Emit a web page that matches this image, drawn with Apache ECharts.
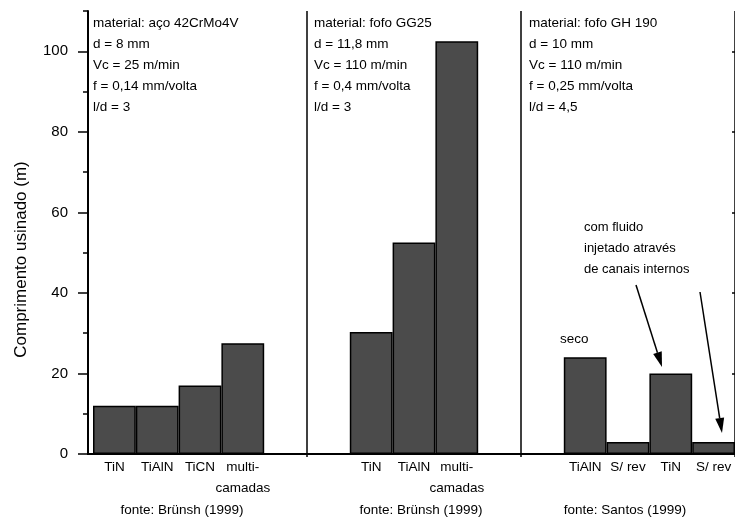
<!DOCTYPE html>
<html>
<head>
<meta charset="utf-8">
<script src="https://cdn.jsdelivr.net/npm/echarts@6/dist/echarts.min.js"></script>
<style>
  html, body { margin: 0; padding: 0; background: #fff; }
  #chart { width: 735px; height: 520px; }
</style>
</head>
<body>
<div id="chart"></div>
<script>
// Machined length (m) per tool coating, one pair of arrays per test panel
const panel1Coatings = ['TiN', 'TiAlN', 'TiCN', 'multi-\ncamadas'];
const panel1Length = [12, 12, 17, 27.5];
const panel2Coatings = ['TiN', 'TiAlN', 'multi-\ncamadas'];
const panel2Length = [30.3, 52.5, 102.5];
const panel3Coatings = ['TiAlN', 'S/ rev', 'TiN', 'S/ rev'];
const panel3Length = [24, 3, 20, 3];

// Cutting conditions printed at the top of each panel
const panelNotes = [
  'material: aço 42CrMo4V\nd = 8 mm\nVc = 25 m/min\nf = 0,14 mm/volta\nl/d = 3',
  'material: fofo GG25\nd = 11,8 mm\nVc = 110 m/min\nf = 0,4 mm/volta\nl/d = 3',
  'material: fofo GH 190\nd = 10 mm\nVc = 110 m/min\nf = 0,25 mm/volta\nl/d = 4,5'
];
const panelSources = ['fonte: Brünsh (1999)', 'fonte: Brünsh (1999)', 'fonte: Santos (1999)'];
const dryLabel = 'seco';
const coolantNote = 'com fluido\ninjetado através\nde canais internos';

const yMajorTicks = [0, 20, 40, 60, 80, 100];
const yMinorTicks = [10, 30, 50, 70, 90, 110];
const yMax = 110;

// Assemble one category row with two empty slots between panels
const GAP = ['', ''];
const GAP_VALUES = ['-', '-'];
const categories = [...panel1Coatings, ...GAP, ...panel2Coatings, ...GAP, ...panel3Coatings];
const values = [...panel1Length, ...GAP_VALUES, ...panel2Length, ...GAP_VALUES, ...panel3Length];
const panel2Start = panel1Coatings.length + GAP.length;
const panel3Start = panel2Start + panel2Coatings.length + GAP.length;
const dividerIdx = [panel2Start - 1, panel3Start - 1];

// first bar of the third panel carries the "seco" caption
const barData = values.map((v, i) => i === panel3Start
  ? { value: v, label: { show: true, formatter: dryLabel, position: 'top', distance: 11, offset: [-11, 0] } }
  : v);

const FONT = 'Liberation Sans, Arial, sans-serif';
const chart = echarts.init(document.getElementById('chart'), null, { renderer: 'canvas' });

function arrow(x0, y0, x1, y1) {
  const dx = x1 - x0, dy = y1 - y0, len = Math.hypot(dx, dy);
  const ux = dx / len, uy = dy / len, head = 15, half = 4.5;
  const bx = x1 - ux * head, by = y1 - uy * head;
  return [
    { type: 'line', shape: { x1: x0, y1: y0, x2: bx, y2: by }, style: { stroke: '#000', lineWidth: 1.5 } },
    { type: 'polygon', shape: { points: [[x1, y1], [bx - uy * half, by + ux * half], [bx + uy * half, by - ux * half]] }, style: { fill: '#000' } }
  ];
}

const noteX = [93, 314, 529];
const sourceX = [182, 421, 625];

const option = {
  animation: false,
  backgroundColor: '#fff',
  textStyle: { fontFamily: FONT },
  grid: [
    { left: 88, top: 11, width: 648, bottom: 66 },
    { left: 93, top: 11, width: 646, bottom: 66 }
  ],
  xAxis: [
    { type: 'value', gridIndex: 0, position: 'bottom', min: 0, max: 1,
      axisLine: { show: true, lineStyle: { color: '#000', width: 2 } },
      axisTick: { show: false }, axisLabel: { show: false }, splitLine: { show: false } },
    { type: 'value', gridIndex: 0, position: 'top', min: 0, max: 1,
      axisLine: { show: true, lineStyle: { color: '#000', width: 2 } },
      axisTick: { show: false }, axisLabel: { show: false }, splitLine: { show: false } },
    { type: 'category', gridIndex: 1, data: categories, boundaryGap: true,
      axisLine: { show: false },
      axisTick: { show: true, length: 3, interval: (i) => dividerIdx.includes(i), lineStyle: { color: '#000', width: 1.5 } },
      splitLine: { show: true, interval: (i) => dividerIdx.includes(i), lineStyle: { color: '#000', width: 1.5 } },
      axisLabel: { interval: 0, color: '#000', fontSize: 13.5, lineHeight: 21, margin: 3, fontFamily: FONT } }
  ],
  yAxis: [
    { type: 'value', gridIndex: 0, position: 'left', min: 0, max: yMax,
      axisLine: { show: true, lineStyle: { color: '#000', width: 2 } },
      axisTick: { show: true, length: 5, customValues: yMinorTicks, lineStyle: { color: '#000', width: 1.5 } },
      axisLabel: { show: false }, splitLine: { show: false } },
    { type: 'value', gridIndex: 0, position: 'left', min: 0, max: yMax,
      name: 'Comprimento usinado (m)', nameLocation: 'middle', nameGap: 58,
      nameTextStyle: { color: '#000', fontSize: 17, fontFamily: FONT, padding: [0, 54, 0, 0] },
      axisLine: { show: false },
      axisTick: { show: true, length: 10, customValues: yMajorTicks, lineStyle: { color: '#000', width: 1.5 } },
      axisLabel: { customValues: yMajorTicks, color: '#000', fontSize: 15, margin: 20, fontFamily: FONT },
      splitLine: { show: false } },
    { type: 'value', gridIndex: 0, position: 'right', min: 0, max: yMax,
      axisLine: { show: false },
      axisTick: { show: true, inside: true, length: 3, customValues: yMajorTicks.slice(1), lineStyle: { color: '#000', width: 1.5 } },
      axisLabel: { show: false }, splitLine: { show: false } },
    { type: 'value', gridIndex: 1, min: 0, max: yMax, show: false }
  ],
  series: [
    { type: 'bar', xAxisIndex: 2, yAxisIndex: 3, data: barData,
      barWidth: '100%', barCategoryGap: '0%',
      itemStyle: { color: '#4b4b4b', borderColor: '#000', borderWidth: 1.5 },
      label: { color: '#000', fontSize: 13.5, fontFamily: FONT } }
  ],
  graphic: [
    ...panelNotes.map((t, i) => ({ type: 'text', left: noteX[i], top: 13,
      style: { text: t, fill: '#000', font: '13.5px ' + FONT, lineHeight: 21 } })),
    ...panelSources.map((t, i) => ({ type: 'text', x: sourceX[i], y: 510,
      style: { text: t, fill: '#000', font: '13.5px ' + FONT, align: 'center', verticalAlign: 'middle' } })),
    { type: 'text', left: 584, top: 217,
      style: { text: coolantNote, fill: '#000', font: '13px ' + FONT, lineHeight: 21 } },
    ...arrow(636, 285, 662, 367),
    ...arrow(700, 292, 722, 433)
  ]
};
chart.setOption(option);
</script>
</body>
</html>
